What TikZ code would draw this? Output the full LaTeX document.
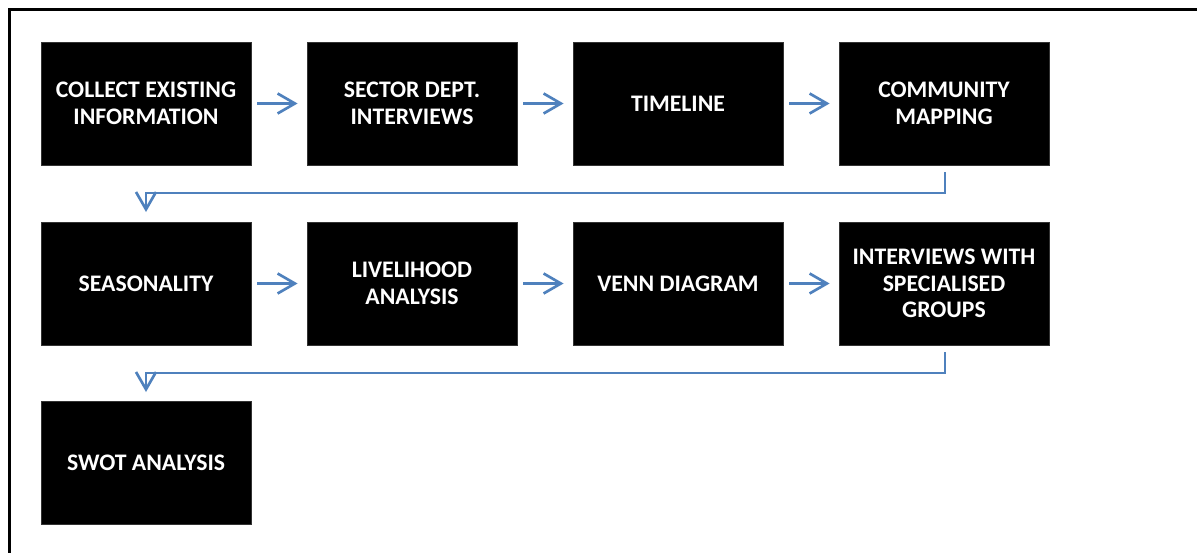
\documentclass[tikz,border=0pt]{standalone}
\usepackage{fontspec}
\setmainfont{Carlito}
\usetikzlibrary{arrows.meta}
\definecolor{arrowblue}{RGB}{79,129,189}
\tikzset{
  stepbox/.style={fill=black, draw=black!80, line width=0.6pt, text=white,
    minimum width=210*0.75pt, minimum height=123*0.75pt, inner sep=0pt,
    align=center, font=\bfseries\fontsize{17.8pt}{20pt}\selectfont},
  flow/.style={draw=arrowblue, line width=2pt,
    -{Straight Barb[length=13pt, width=15pt, line width=2pt]}},
  frame/.style={line width=2.3pt, draw=black}
}
\begin{document}
\begin{tikzpicture}[x=0.75pt, y=-0.75pt]
\useasboundingbox (0,0) rectangle (1197,553);
\draw[frame] (9.5,553) -- (9.5,9.5) -- (1197,9.5);
% row 1
\node[stepbox] (a1) at (146,103.5) {COLLECT EXISTING\\INFORMATION};
\node[stepbox] (a2) at (412,103.5) {SECTOR DEPT.\\INTERVIEWS};
\node[stepbox] (a3) at (678,103.5) {TIMELINE};
\node[stepbox] (a4) at (944,103.5) {COMMUNITY\\MAPPING};
% row 2
\node[stepbox] (b1) at (146,283.5) {SEASONALITY};
\node[stepbox] (b2) at (412,283.5) {LIVELIHOOD\\ANALYSIS};
\node[stepbox] (b3) at (678,283.5) {VENN DIAGRAM};
\node[stepbox] (b4) at (944,283.5) {INTERVIEWS WITH\\SPECIALISED\\GROUPS};
% row 3
\node[stepbox] (c1) at (146,463) {SWOT ANALYSIS};
% horizontal arrows
\draw[flow] ([xshift=6*0.75pt]a1.east) -- ([xshift=-9*0.75pt]a2.west);
\draw[flow] ([xshift=6*0.75pt]a2.east) -- ([xshift=-9*0.75pt]a3.west);
\draw[flow] ([xshift=6*0.75pt]a3.east) -- ([xshift=-9*0.75pt]a4.west);
\draw[flow] ([xshift=6*0.75pt]b1.east) -- ([xshift=-9*0.75pt]b2.west);
\draw[flow] ([xshift=6*0.75pt]b2.east) -- ([xshift=-9*0.75pt]b3.west);
\draw[flow] ([xshift=6*0.75pt]b3.east) -- ([xshift=-9*0.75pt]b4.west);
% wrap connectors
\coordinate (r1a) at (945,172);
\coordinate (r1b) at (945,193);
\coordinate (r1c) at (146,193);
\coordinate (r1d) at (146,212);
\draw[flow] (r1a) -- (r1b) -- (r1c) -- (r1d);
\coordinate (r2a) at (945,352);
\coordinate (r2b) at (945,373);
\coordinate (r2c) at (146,373);
\coordinate (r2d) at (146,392);
\draw[flow] (r2a) -- (r2b) -- (r2c) -- (r2d);
\end{tikzpicture}
\end{document}
